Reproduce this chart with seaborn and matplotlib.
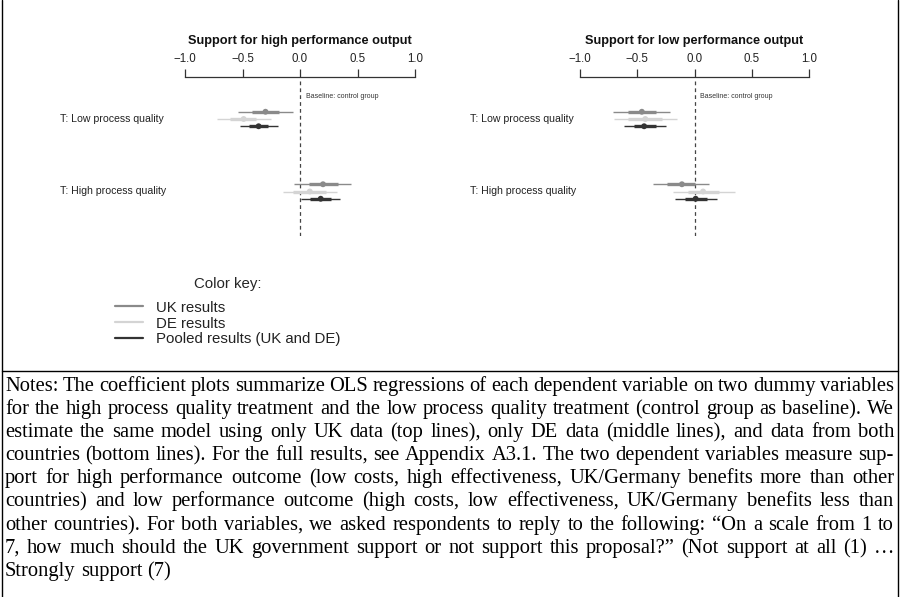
import matplotlib
matplotlib.use("Agg")
import matplotlib.pyplot as plt
from matplotlib.lines import Line2D
import numpy as np
import pandas as pd
import seaborn as sns

sns.set_theme(style="white")
plt.rcParams["font.family"] = ["Liberation Sans", "DejaVu Sans"]

# ---- coefficient estimates (control group is the baseline) ----
treatments = ["T: Low process quality", "T: High process quality"]
samples = ["UK results", "DE results", "Pooled results (UK and DE)"]

# Support for high performance output
high_est = [-0.30, -0.49, -0.36, 0.20, 0.085, 0.18]
high_lo95 = [-0.54, -0.72, -0.52, -0.05, -0.15, 0.01]
high_hi95 = [-0.06, -0.25, -0.19, 0.44, 0.32, 0.35]
high_lo90 = [-0.42, -0.61, -0.44, 0.08, -0.06, 0.09]
high_hi90 = [-0.18, -0.38, -0.28, 0.33, 0.23, 0.27]

# Support for low performance output
low_est = [-0.46, -0.43, -0.44, -0.11, 0.075, 0.01]
low_lo95 = [-0.71, -0.70, -0.62, -0.36, -0.19, -0.17]
low_hi95 = [-0.21, -0.15, -0.25, 0.13, 0.35, 0.20]
low_lo90 = [-0.585, -0.58, -0.53, -0.24, -0.06, -0.08]
low_hi90 = [-0.34, -0.28, -0.34, 0.00, 0.21, 0.11]

panel_titles = ["Support for high performance output", "Support for low performance output"]
x_ticks = [-1.0, -0.5, 0.0, 0.5, 1.0]

palette = {"UK results": "#8a8a8a", "DE results": "#d4d4d4",
           "Pooled results (UK and DE)": "#333333"}
offsets = {"UK results": -0.1, "DE results": 0.0, "Pooled results (UK and DE)": 0.1}

notes_lines = [
    "Notes: The coefficient plots summarize OLS regressions of each dependent variable on two dummy variables",
    "for the high process quality treatment and the low process quality treatment (control group as baseline). We",
    "estimate the same model using only UK data (top lines), only DE data (middle lines), and data from both",
    "countries (bottom lines). For the full results, see Appendix A3.1. The two dependent variables measure sup-",
    "port for high performance outcome (low costs, high effectiveness, UK/Germany benefits more than other",
    "countries) and low performance outcome (high costs, low effectiveness, UK/Germany benefits less than",
    "other countries). For both variables, we asked respondents to reply to the following: \u201cOn a scale from 1 to",
    "7, how much should the UK government support or not support this proposal?\u201d (Not support at all (1) \u2026",
    "Strongly support (7)",
]


def make_frame(est, lo95, hi95, lo90, hi90):
    rows = []
    i = 0
    for t_idx, t in enumerate(treatments):
        for s in samples:
            rows.append(dict(treatment=t, sample=s, y=t_idx + offsets[s],
                             est=est[i], lo95=lo95[i], hi95=hi95[i],
                             lo90=lo90[i], hi90=hi90[i]))
            i += 1
    return pd.DataFrame(rows)


W, H = 901, 597
fig = plt.figure(figsize=(W / 100, H / 100), dpi=100)


def fx(px):
    return px / W


def fy(py):
    return 1 - py / H


panels = [
    (make_frame(high_est, high_lo95, high_hi95, high_lo90, high_hi90), 185, 415, 60),
    (make_frame(low_est, low_lo95, low_hi95, low_lo90, low_hi90), 580, 809, 470),
]
ax_top, ax_bot = 77, 236
ax_h = ax_bot - ax_top
y_top = (ax_top - 119) / 72.5
y_bot = (ax_bot - 119) / 72.5

for (df, x0, x1, lab_x), title in zip(panels, panel_titles):
    ax = fig.add_axes([fx(x0), fy(ax_bot), fx(x1) - fx(x0), ax_h / H])
    ax.set_xlim(-1, 1)
    ax.set_ylim(y_bot, y_top)
    ax.axvline(0, ymax=0.98, color="#444444", lw=0.9, ls=(0, (3, 2.5)), zorder=1)
    for _, r in df.iterrows():
        c = palette[r["sample"]]
        ax.hlines(r["y"], r["lo95"], r["hi95"], color=c, lw=1.0, zorder=2)
        ax.hlines(r["y"], r["lo90"], r["hi90"], color=c, lw=2.4, zorder=3)
    sns.scatterplot(data=df, x="est", y="y", hue="sample", palette=palette,
                    s=18, edgecolor="none", legend=False, ax=ax, zorder=4)
    ax.set_xlabel("")
    ax.set_ylabel("")
    for sp in ["left", "right", "bottom"]:
        ax.spines[sp].set_visible(False)
    ax.spines["top"].set_color("#333333")
    ax.spines["top"].set_linewidth(0.9)
    ax.xaxis.set_ticks_position("top")
    ax.set_xticks(x_ticks)
    ax.set_xticklabels([f"{v:.1f}".replace("-", "\u2212") for v in x_ticks])
    ax.tick_params(axis="x", direction="out", length=5.5, width=0.9, color="#333333",
                   labelsize=8.3, labelcolor="#222222", pad=3.5)
    ax.set_yticks([])
    ax.set_title(title, fontsize=9.2, fontweight="bold", color="#111111",
                 y=1 + (ax_top - 41) / ax_h, va="center", pad=0)
    ax.text(0.05, (97 - 119) / 72.5, "Baseline: control group", fontsize=5,
            color="#333333", va="center", ha="left")
    for t_idx, t in enumerate(treatments):
        fig.text(fx(lab_x), fy(119 + 72.5 * t_idx), t, fontsize=7.6,
                 color="#222222", va="center", ha="left")

handles = [Line2D([0], [0], color=palette[s], lw=1.6) for s in samples]
leg = fig.legend(handles, samples, title="Color key:", loc="upper left",
                 bbox_to_anchor=(fx(115), fy(277)), frameon=False,
                 fontsize=10.8, title_fontsize=10.8, handlelength=1.85,
                 handletextpad=0.9, labelspacing=0.12, borderpad=0,
                 borderaxespad=0)
leg._legend_box.sep = 7
for t in leg.get_texts():
    t.set_color("#222222")

# frame around the figure and the notes block
frame_kw = dict(color="#000000", lw=1.0, transform=fig.transFigure)
fig.add_artist(Line2D([fx(1.5), fx(1.5)], [0, 1], **frame_kw))
fig.add_artist(Line2D([fx(898), fx(898)], [0, 1], **frame_kw))
fig.add_artist(Line2D([fx(1.5), fx(898)], [fy(371), fy(371)], **frame_kw))

# justified notes text, one text object per word
renderer = fig.canvas.get_renderer()
serif = dict(family=["Liberation Serif", "DejaVu Serif"], fontsize=14.8, color="#000000")
left, right = 5.0, 894.0


def baseline_shift(txt):
    """Sub-pixel offset that keeps every word on the same raster baseline."""
    try:
        from matplotlib.backends.backend_agg import get_hinting_flag
        font = renderer._prepare_font(txt.get_fontproperties())
        font.set_text(txt.get_text(), 0, flags=get_hinting_flag())
        hgt26 = font.get_width_height()[1]
        desc26 = font.get_descent()
        h_img = hgt26 // 64 + 2
        ymax_px = (hgt26 - desc26) // 64
        c_w = 2 - h_img + ymax_px
        return -c_w - desc26 / 64.0
    except Exception:
        return None


probe_a = fig.text(0, 0, "a b", **serif)
probe_b = fig.text(0, 0, "ab", **serif)
space_w = probe_a.get_window_extent(renderer).width - probe_b.get_window_extent(renderer).width
probe_a.remove()
probe_b.remove()

for i, line in enumerate(notes_lines):
    row = int(round(391 + 23.1 * i))
    words = line.split(" ")
    objs = [fig.text(0, fy(row), w, va="baseline", ha="left", **serif) for w in words]
    widths = [o.get_window_extent(renderer).width for o in objs]
    if i < len(notes_lines) - 1 and len(words) > 1:
        gap = (right - left - sum(widths)) / (len(words) - 1)
    else:
        gap = space_w
    xpos = left
    for o, wdt in zip(objs, widths):
        o.set_x(fx(xpos))
        shift = baseline_shift(o)
        if shift is not None:
            o.set_y(fy(row + shift))
        xpos += wdt + gap

fig.savefig("out.png", dpi=100)
